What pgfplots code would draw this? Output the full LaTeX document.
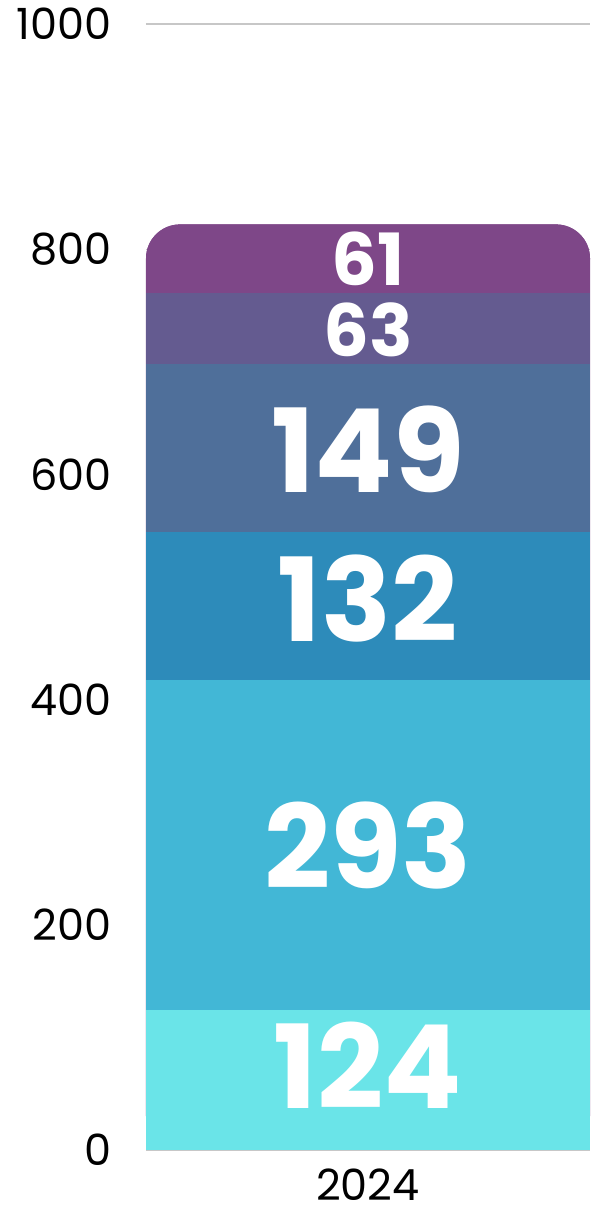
\documentclass[border=0pt]{standalone}
\usepackage{fontspec}
\setmainfont{Poppins}
\usepackage{pgfplots}
\pgfplotsset{compat=1.18}
\definecolor{c1}{HTML}{6AE4E8}
\definecolor{c2}{HTML}{42B7D6}
\definecolor{c3}{HTML}{2D8BBA}
\definecolor{c4}{HTML}{4F6F9A}
\definecolor{c5}{HTML}{645B90}
\definecolor{c6}{HTML}{7E4788}
\begin{document}
\begin{tikzpicture}
\pgfplotsset{base/.style={scale only axis, width=222pt, height=563pt,
  xmin=-0.5, xmax=0.5, ymin=0, ymax=1000, clip=false}}
% axis with ticks, grid and the rounded background of the top segment
\begin{axis}[base, name=a,
  axis line style={draw=none}, major tick length=0pt,
  ytick={0,200,400,600,800,1000}, xtick={0}, xticklabels={2024},
  ymajorgrids, grid style={color=black!22, line width=0.6pt},
  /pgf/number format/assume math mode=true,
  /pgf/number format/1000 sep={},
  tick label style={font=\fontsize{21.5}{24}\selectfont, inner sep=0pt},
  yticklabel style={xshift=-17pt},
  xticklabel style={yshift=-9pt}]
\addplot[ybar, bar width=222pt, bar shift=0pt, fill=c6, draw=none,
  rounded corners=17pt] coordinates {(0,822)};
\end{axis}
% stacked segments
\begin{axis}[base, hide axis, ybar stacked, bar width=222pt]
\addplot[fill=c1, draw=none] coordinates {(0,124)};
\addplot[fill=c2, draw=none] coordinates {(0,293)};
\addplot[fill=c3, draw=none] coordinates {(0,132)};
\addplot[fill=c4, draw=none] coordinates {(0,149)};
\addplot[fill=c5, draw=none] coordinates {(0,63)};
\addplot[fill=c6, draw=none, rounded corners=17pt] coordinates {(0,61)};
\end{axis}
% value labels inside each segment
\begin{axis}[base, hide axis]
\addplot[draw=none, mark=none, nodes near coords, point meta=explicit symbolic,
  nodes near coords style={anchor=center, text=white,
    font=\fontsize{58}{58}\selectfont\bfseries}]
  table[meta=lab] {
x y lab
0 75 124
0 270.5 293
0 490 132
0 622 149
};
\addplot[draw=none, mark=none, nodes near coords, point meta=explicit symbolic,
  nodes near coords style={anchor=center, text=white,
    font=\fontsize{36}{36}\selectfont\bfseries}]
  table[meta=lab] {
x y lab
0 728 63
0 791.5 61
};
\end{axis}
\pgfresetboundingbox
\path[use as bounding box] ([shift={(-73pt,-31pt)}]a.south west)
  rectangle ([shift={(4pt,12pt)}]a.north east);
\end{tikzpicture}
\end{document}
